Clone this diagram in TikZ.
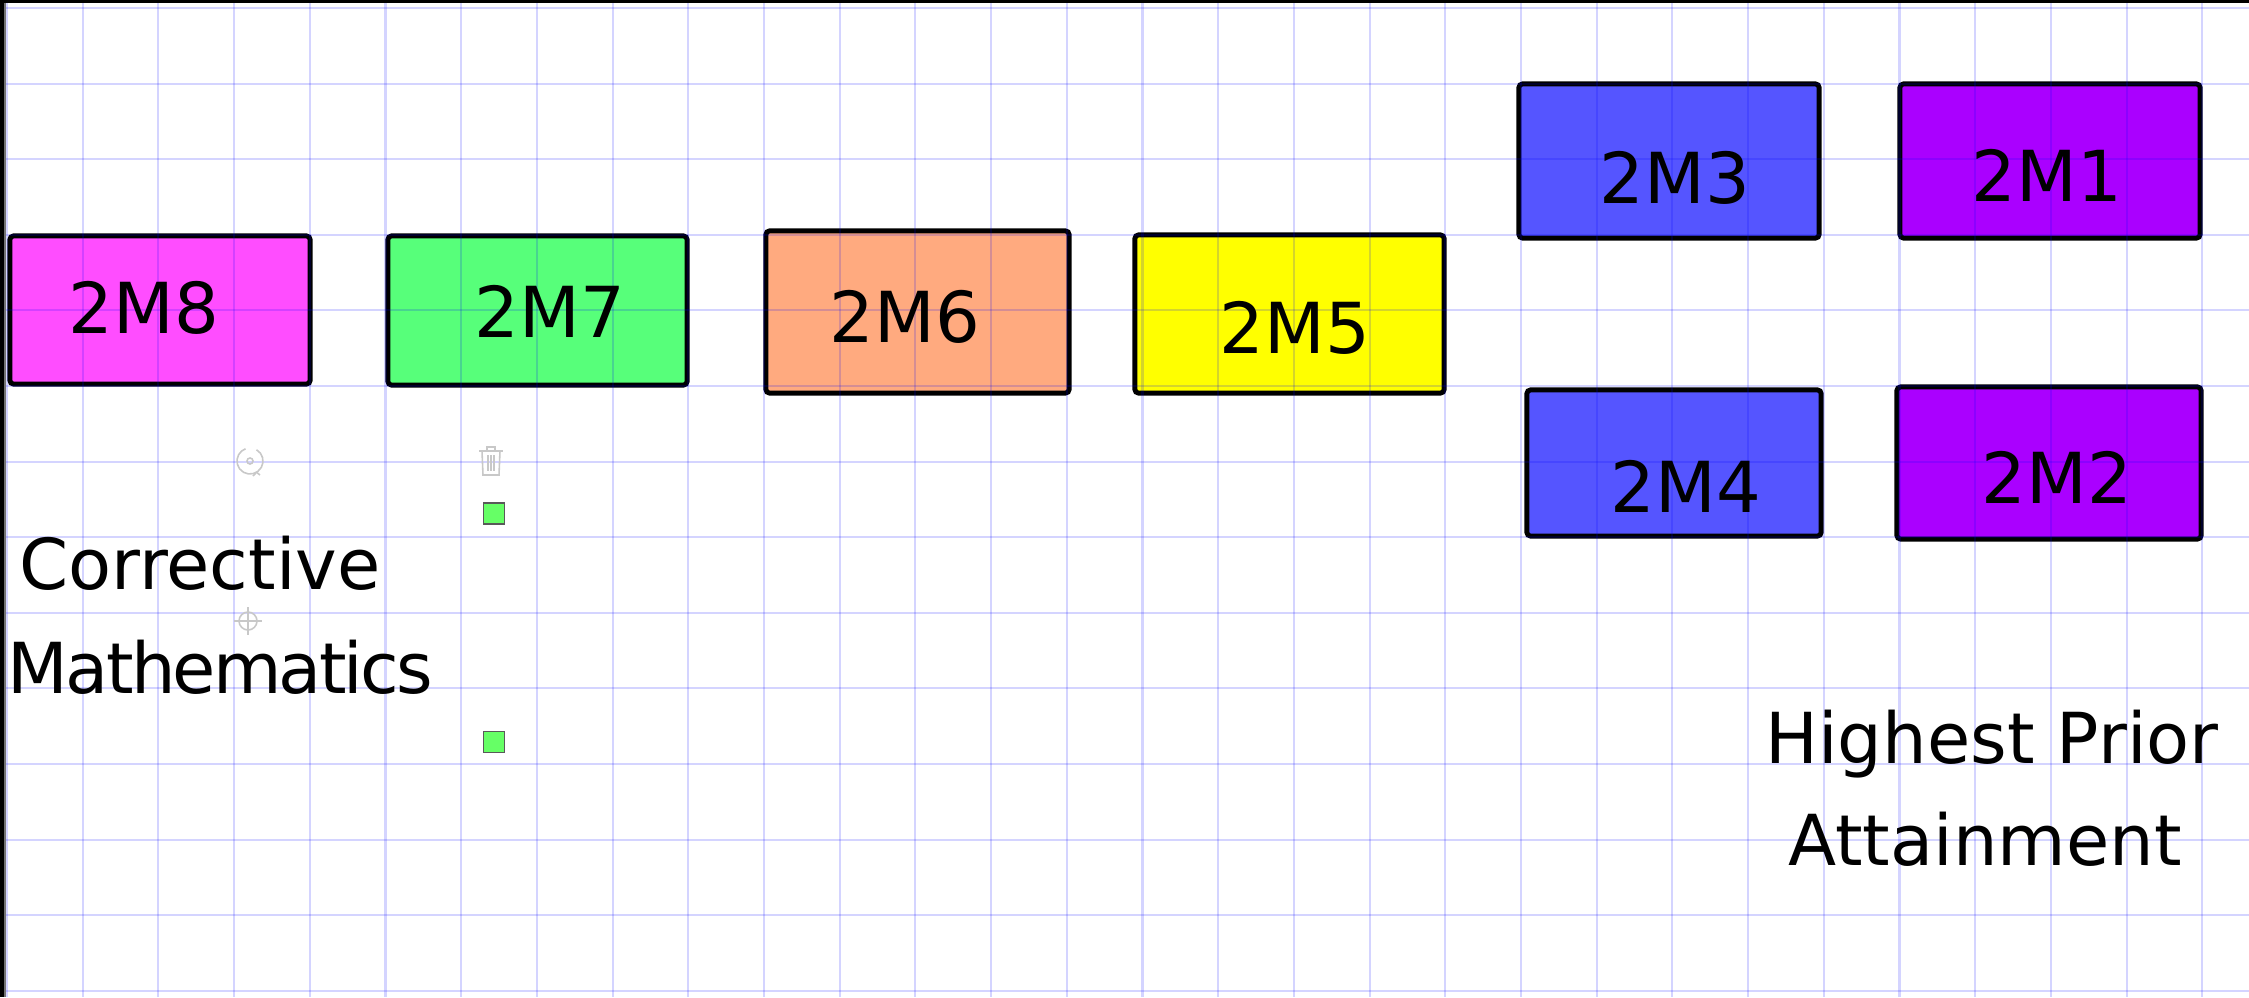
\documentclass[tikz,border=0pt]{standalone}
\usepackage{fontspec}
\setmainfont{DejaVu Sans}
\newfontfamily\tightfont[LetterSpace=-4]{DejaVu Sans}
\definecolor{cmag}{RGB}{255,77,255}
\definecolor{cgreen}{RGB}{87,255,122}
\definecolor{csalmon}{RGB}{255,170,127}
\definecolor{cyellow}{RGB}{255,255,0}
\definecolor{cblue}{RGB}{85,85,255}
\definecolor{cpurple}{RGB}{170,0,255}
\definecolor{csq}{RGB}{102,255,102}
\definecolor{cicon}{RGB}{200,200,200}
\tikzset{
  grp/.style={draw=black, line width=1.4pt, rounded corners=1pt, inner sep=0pt, outer sep=0pt},
  lbl/.style={inner sep=0pt, outer sep=0pt, font=\fontsize{20}{29}\selectfont},
  gridline/.style={draw=blue, opacity=0.17, line width=0.6pt},
  sel/.style={draw=black!65, fill=csq, line width=0.35pt},
  icon/.style={draw=cicon, line width=0.45pt}
}
\begin{document}
\begin{tikzpicture}[x=0.01cm,y=-0.01cm]
\useasboundingbox (0,0) rectangle (2249,997);
\clip (0,0) rectangle (2249,997);
\fill[white] (0,0) rectangle (2249,997);
% boxes
\node[grp, fill=cmag,    minimum width=3.00cm, minimum height=1.48cm] (b8) at (160,310) {};
\node[grp, fill=cgreen,  minimum width=2.99cm, minimum height=1.49cm] (b7) at (537.5,310.5) {};
\node[grp, fill=csalmon, minimum width=3.03cm, minimum height=1.62cm] (b6) at (917.5,312) {};
\node[grp, fill=cyellow, minimum width=3.09cm, minimum height=1.58cm] (b5) at (1289.5,314) {};
\node[grp, fill=cblue,   minimum width=3.00cm, minimum height=1.54cm] (b3) at (1669,161) {};
\node[grp, fill=cpurple, minimum width=3.00cm, minimum height=1.54cm] (b1) at (2050,161) {};
\node[grp, fill=cblue,   minimum width=2.94cm, minimum height=1.46cm] (b4) at (1674,463) {};
\node[grp, fill=cpurple, minimum width=3.04cm, minimum height=1.52cm] (b2) at (2049,463) {};
% grid
\foreach \k in {0,...,29} { \draw[gridline] ({7+75.7*\k},0) -- ({7+75.7*\k},997); }
\foreach \k in {0,...,13} { \draw[gridline] (0,{8+75.6*\k}) -- (2249,{8+75.6*\k}); }
% labels
\node[lbl] (t8) at (144,308) {2M8};
\node[lbl] (t7) at (550,311) {2M7};
\node[lbl] (t6) at (905,317) {2M6};
\node[lbl] (t5) at (1295,328) {2M5};
\node[lbl] (t3) at (1675,178) {2M3};
\node[lbl] (t1) at (2047,175) {2M1};
\node[lbl] (t4) at (1686,486) {2M4};
\node[lbl] (t2) at (2057,477) {2M2};
\node[lbl, anchor=base] (c1) at (200,589) {Corrective};
\node[lbl, anchor=base west] (c2) at (8,693) {\tightfont Mathematics};
\node[lbl, anchor=base] (h1) at (1992,763) {Highest Prior};
\node[lbl, anchor=base] (h2) at (1985,865) {Attainment};
% editor handles
\node[sel, minimum size=0.21cm, inner sep=0pt] (s1) at (494,513.5) {};
\node[sel, minimum size=0.21cm, inner sep=0pt] (s2) at (494,742) {};
% rotate icon
\draw[icon] (250,461) ++(-60:13) arc (-60:250:13);
\draw[icon] (256.5,472.3) -- (253,476) (256.5,472.3) -- (260,475);
\draw[icon] (250,461) circle (3);
% trash icon
\draw[icon] (482,451) -- (483,475) -- (499,475) -- (500,451);
\draw[icon] (479,451) -- (503,451);
\draw[icon] (487,451) -- (487,447) -- (495,447) -- (495,451);
\draw[icon] (488,455) -- (488,471) (491,455) -- (491,471) (494,455) -- (494,471);
% crosshair icon
\draw[icon] (248,621) circle (9);
\draw[icon] (234,621) -- (262,621) (248,607) -- (248,635);
% frame
\fill[black] (0,0) rectangle (2249,3);
\fill[black] (0,0) rectangle (4,997);
\fill[black!55] (4,3) rectangle (5.5,997);
\end{tikzpicture}
\end{document}
